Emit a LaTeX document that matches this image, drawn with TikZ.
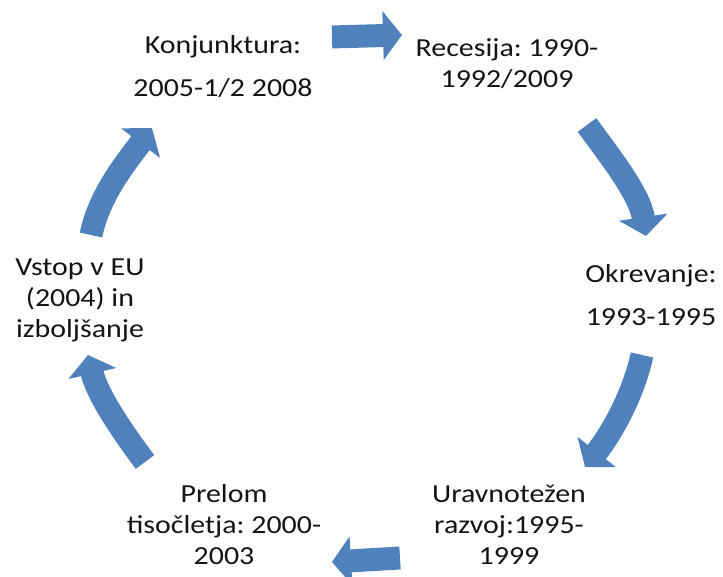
\documentclass[tikz,border=0pt]{standalone}
\usepackage{fontspec}
\setmainfont{Carlito}[FakeStretch=1.15]
\usetikzlibrary{arrows.meta}
\definecolor{arrowblue}{RGB}{79,129,189}
\definecolor{txt}{RGB}{20,20,20}
\frenchspacing
\tikzset{
  label/.style={align=center, text=txt, inner sep=0pt,
    font=\fontsize{26pt}{31pt}\selectfont\frenchspacing},
  blockarrow/.style={draw=arrowblue, line width=23pt,
    -{Triangle[width=48pt,length=19pt]}}
}
\begin{document}
\begin{tikzpicture}[x=1pt,y=1pt]
\useasboundingbox (0,0) rectangle (723,576);
% text blocks
\node[label] (konj) at (223,509) {Konjunktura:\\[12pt]2005-1/2 2008};
\node[label] (rec) at (507,512) {Recesija: 1990-\\1992/2009};
\node[label] (okr) at (651,281) {Okrevanje:\\[12pt]1993-1995};
\node[label] (urav) at (509,51) {Uravnotežen\\razvoj:1995-\\1999};
\node[label] (prel) at (224,51) {Prelom\\tisočletja: 2000-\\2003};
\node[label] (vstop) at (80,276) {Vstop v EU\\(2004) in\\izboljšanje};
% arrow end points
\coordinate (a1s) at (332,539); \coordinate (a1e) at (402,541);
\coordinate (a2s) at (587,451); \coordinate (a2e) at (646,340);
\coordinate (a3s) at (642,221); \coordinate (a3e) at (585,109);
\coordinate (a4s) at (400,18);  \coordinate (a4e) at (332,14);
\coordinate (a5s) at (145,114); \coordinate (a5e) at (88,221);
\coordinate (a6s) at (91,341);  \coordinate (a6e) at (152,448);
% arrows
\draw[blockarrow] (a1s) -- (a1e);
\draw[blockarrow] (a2s) .. controls (612,417) and (640,381) .. (a2e);
\draw[blockarrow] (a3s) .. controls (633,180) and (611,142) .. (a3e);
\draw[blockarrow] (a4s) -- (a4e);
\draw[blockarrow] (a5s) .. controls (121,146) and (97,182) .. (a5e);
\draw[blockarrow] (a6s) .. controls (99,381) and (127,415) .. (a6e);
\end{tikzpicture}
\end{document}
